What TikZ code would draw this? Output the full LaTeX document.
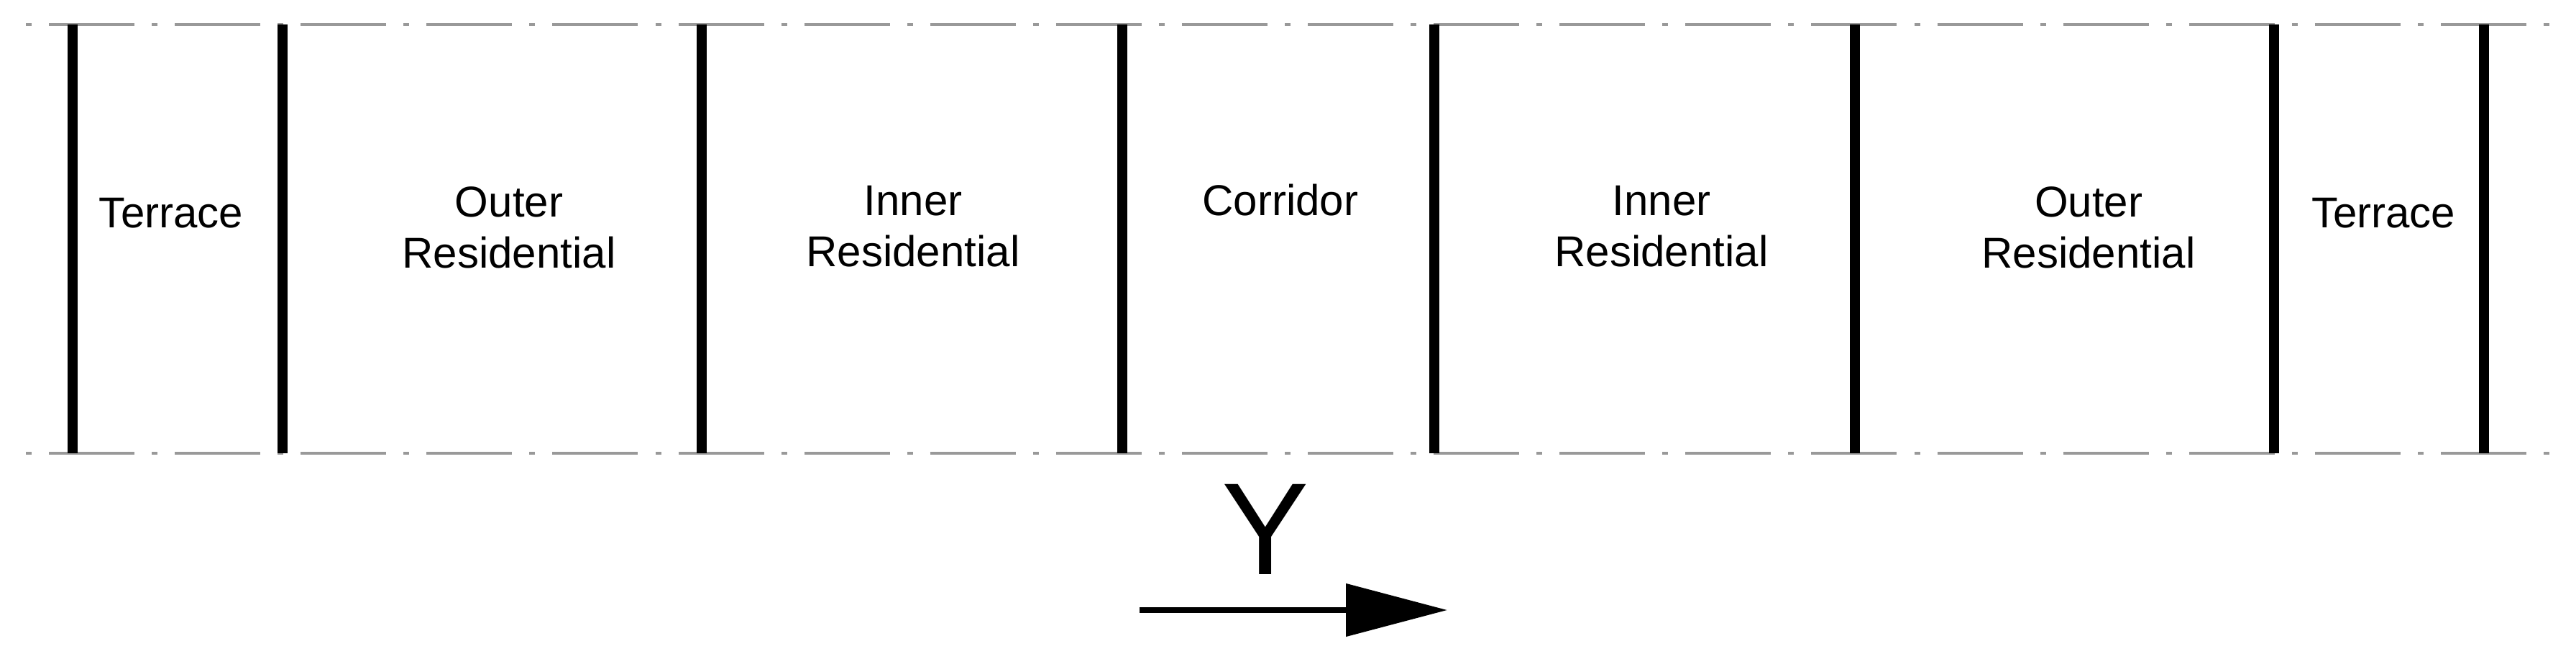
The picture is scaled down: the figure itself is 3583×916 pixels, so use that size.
\documentclass[tikz,border=0pt]{standalone}
\usepackage{fontspec}
\setmainfont{Liberation Sans}
\usetikzlibrary{arrows.meta}
\begin{document}
\begin{tikzpicture}[x=0.2pt,y=-0.2pt,
  wall/.style={line width=2.8pt, line cap=butt},
  axisline/.style={line width=0.9pt, color=black!40, dash pattern=on 1.6pt off 4.8pt on 23.8pt off 4.82pt},
  lbl/.style={font=\fontsize{12}{14.2}\selectfont, align=center, inner sep=0pt, anchor=base},
  dirlbl/.style={font=\fontsize{36.4}{40}\selectfont, inner sep=0pt, anchor=base},
  dirarrow/.style={line width=1.6pt, -{Triangle[length=28.2pt,width=14.4pt]}}]
\useasboundingbox (0,0) rectangle (3583,916);
% grid (axis) lines
\coordinate (tl) at (36,34);
\coordinate (tr) at (3546,34);
\coordinate (bl) at (36,630);
\coordinate (br) at (3546,630);
\draw[axisline] (tl) -- (tr);
\draw[axisline] (bl) -- (br);
% walls
\foreach \x/\n in {101/w1,393/w2,976/w3,1561/w4,1995/w5,2580/w6,3163/w7,3455/w8}{
  \coordinate (\n t) at (\x,34);
  \coordinate (\n b) at (\x,630);
  \draw[wall] (\n t) -- (\n b);
}
% labels (base anchor = baseline of last line)
\node[lbl] (terL) at (238,317) {Terrace};
\node[lbl] (outL) at (708,373) {Outer\\Residential};
\node[lbl] (innL) at (1270,371) {Inner\\Residential};
\node[lbl] (cor) at (1781,300) {Corridor};
\node[lbl] (innR) at (2311,371) {Inner\\Residential};
\node[lbl] (outR) at (2905,373) {Outer\\Residential};
\node[lbl] (terR) at (3315,317) {Terrace};
% direction
\node[dirlbl] (ylbl) at (1760,799) {Y};
\coordinate (ya) at (1585,848);
\coordinate (yb) at (2013,848);
\draw[dirarrow] (ya) -- (yb);
\end{tikzpicture}
\end{document}
